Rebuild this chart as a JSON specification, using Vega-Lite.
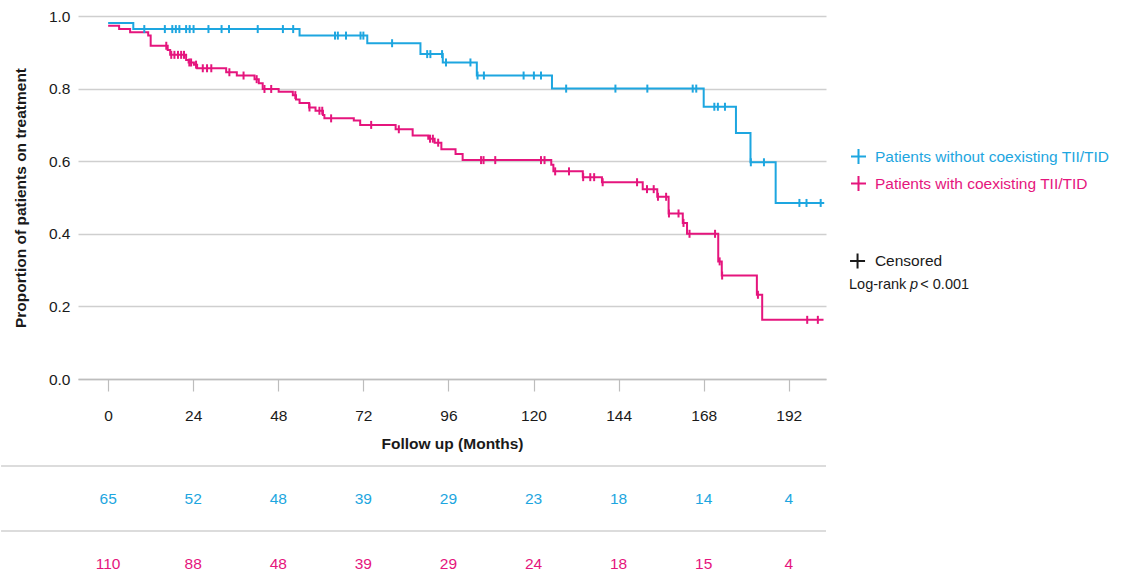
{
  "$schema": "https://vega.github.io/schema/vega-lite/v6.json",
  "background": "white",
  "padding": {"left": 0, "top": 9, "right": 5, "bottom": 0},
  "config": {
    "view": {"stroke": null},
    "font": "Liberation Sans",
    "text": {"font": "Liberation Sans"}
  },
  "datasets": {
    "curves": [
      {"group": "without", "month": 0, "surv": 0.981},
      {"group": "without", "month": 7.1, "surv": 0.964},
      {"group": "without", "month": 54.0, "surv": 0.946},
      {"group": "without", "month": 73.1, "surv": 0.925},
      {"group": "without", "month": 88.1, "surv": 0.895},
      {"group": "without", "month": 94.4, "surv": 0.872},
      {"group": "without", "month": 104.0, "surv": 0.836},
      {"group": "without", "month": 125.2, "surv": 0.800},
      {"group": "without", "month": 168.0, "surv": 0.750},
      {"group": "without", "month": 177.1, "surv": 0.678},
      {"group": "without", "month": 181.2, "surv": 0.597},
      {"group": "without", "month": 188.3, "surv": 0.485},
      {"group": "without", "month": 202.0, "surv": 0.485},
      {"group": "with", "month": 0, "surv": 0.973},
      {"group": "with", "month": 3.1, "surv": 0.964},
      {"group": "with", "month": 6.2, "surv": 0.955},
      {"group": "with", "month": 11.3, "surv": 0.946},
      {"group": "with", "month": 12.0, "surv": 0.918},
      {"group": "with", "month": 16.8, "surv": 0.906},
      {"group": "with", "month": 17.5, "surv": 0.893},
      {"group": "with", "month": 22.0, "surv": 0.879},
      {"group": "with", "month": 22.7, "surv": 0.872},
      {"group": "with", "month": 24.2, "surv": 0.866},
      {"group": "with", "month": 25.1, "surv": 0.856},
      {"group": "with", "month": 33.3, "surv": 0.845},
      {"group": "with", "month": 36.3, "surv": 0.836},
      {"group": "with", "month": 41.3, "surv": 0.826},
      {"group": "with", "month": 42.5, "surv": 0.815},
      {"group": "with", "month": 43.6, "surv": 0.799},
      {"group": "with", "month": 48.1, "surv": 0.791},
      {"group": "with", "month": 52.1, "surv": 0.782},
      {"group": "with", "month": 53.0, "surv": 0.770},
      {"group": "with", "month": 54.0, "surv": 0.760},
      {"group": "with", "month": 56.7, "surv": 0.748},
      {"group": "with", "month": 58.5, "surv": 0.739},
      {"group": "with", "month": 60.6, "surv": 0.727},
      {"group": "with", "month": 61.0, "surv": 0.718},
      {"group": "with", "month": 69.3, "surv": 0.712},
      {"group": "with", "month": 71.1, "surv": 0.700},
      {"group": "with", "month": 81.1, "surv": 0.688},
      {"group": "with", "month": 85.9, "surv": 0.671},
      {"group": "with", "month": 90.3, "surv": 0.662},
      {"group": "with", "month": 92.1, "surv": 0.651},
      {"group": "with", "month": 94.0, "surv": 0.633},
      {"group": "with", "month": 98.0, "surv": 0.620},
      {"group": "with", "month": 100.0, "surv": 0.603},
      {"group": "with", "month": 125.0, "surv": 0.590},
      {"group": "with", "month": 125.6, "surv": 0.572},
      {"group": "with", "month": 133.9, "surv": 0.556},
      {"group": "with", "month": 139.3, "surv": 0.542},
      {"group": "with", "month": 150.8, "surv": 0.523},
      {"group": "with", "month": 154.9, "surv": 0.502},
      {"group": "with", "month": 158.1, "surv": 0.456},
      {"group": "with", "month": 162.1, "surv": 0.430},
      {"group": "with", "month": 163.3, "surv": 0.400},
      {"group": "with", "month": 172.1, "surv": 0.324},
      {"group": "with", "month": 173.1, "surv": 0.285},
      {"group": "with", "month": 183.0, "surv": 0.232},
      {"group": "with", "month": 184.5, "surv": 0.163},
      {"group": "with", "month": 201.8, "surv": 0.163}
    ],
    "censors": [
      {"group": "without", "month": 10.2, "surv": 0.964},
      {"group": "without", "month": 16.0, "surv": 0.964},
      {"group": "without", "month": 18.1, "surv": 0.964},
      {"group": "without", "month": 19.1, "surv": 0.964},
      {"group": "without", "month": 20.1, "surv": 0.964},
      {"group": "without", "month": 22.0, "surv": 0.964},
      {"group": "without", "month": 23.0, "surv": 0.964},
      {"group": "without", "month": 24.1, "surv": 0.964},
      {"group": "without", "month": 28.3, "surv": 0.964},
      {"group": "without", "month": 32.0, "surv": 0.964},
      {"group": "without", "month": 34.1, "surv": 0.964},
      {"group": "without", "month": 42.2, "surv": 0.964},
      {"group": "without", "month": 49.3, "surv": 0.964},
      {"group": "without", "month": 52.2, "surv": 0.964},
      {"group": "without", "month": 64.0, "surv": 0.946},
      {"group": "without", "month": 64.8, "surv": 0.946},
      {"group": "without", "month": 67.1, "surv": 0.946},
      {"group": "without", "month": 71.2, "surv": 0.946},
      {"group": "without", "month": 72.0, "surv": 0.946},
      {"group": "without", "month": 80.1, "surv": 0.925},
      {"group": "without", "month": 90.0, "surv": 0.895},
      {"group": "without", "month": 90.9, "surv": 0.895},
      {"group": "without", "month": 94.2, "surv": 0.895},
      {"group": "without", "month": 95.3, "surv": 0.872},
      {"group": "without", "month": 102.2, "surv": 0.872},
      {"group": "without", "month": 104.2, "surv": 0.836},
      {"group": "without", "month": 106.0, "surv": 0.836},
      {"group": "without", "month": 117.2, "surv": 0.836},
      {"group": "without", "month": 120.1, "surv": 0.836},
      {"group": "without", "month": 122.1, "surv": 0.836},
      {"group": "without", "month": 129.2, "surv": 0.800},
      {"group": "without", "month": 143.1, "surv": 0.800},
      {"group": "without", "month": 152.1, "surv": 0.800},
      {"group": "without", "month": 164.9, "surv": 0.800},
      {"group": "without", "month": 165.9, "surv": 0.800},
      {"group": "without", "month": 171.0, "surv": 0.750},
      {"group": "without", "month": 172.0, "surv": 0.750},
      {"group": "without", "month": 174.0, "surv": 0.750},
      {"group": "without", "month": 181.3, "surv": 0.597},
      {"group": "without", "month": 185.0, "surv": 0.597},
      {"group": "without", "month": 195.0, "surv": 0.485},
      {"group": "without", "month": 197.0, "surv": 0.485},
      {"group": "without", "month": 201.0, "surv": 0.485},
      {"group": "with", "month": 16.4, "surv": 0.918},
      {"group": "with", "month": 17.8, "surv": 0.893},
      {"group": "with", "month": 18.7, "surv": 0.893},
      {"group": "with", "month": 19.7, "surv": 0.893},
      {"group": "with", "month": 20.6, "surv": 0.893},
      {"group": "with", "month": 21.4, "surv": 0.893},
      {"group": "with", "month": 22.9, "surv": 0.872},
      {"group": "with", "month": 23.4, "surv": 0.872},
      {"group": "with", "month": 24.8, "surv": 0.866},
      {"group": "with", "month": 26.7, "surv": 0.856},
      {"group": "with", "month": 27.9, "surv": 0.856},
      {"group": "with", "month": 29.1, "surv": 0.856},
      {"group": "with", "month": 34.2, "surv": 0.845},
      {"group": "with", "month": 38.2, "surv": 0.836},
      {"group": "with", "month": 41.9, "surv": 0.826},
      {"group": "with", "month": 44.1, "surv": 0.799},
      {"group": "with", "month": 46.0, "surv": 0.799},
      {"group": "with", "month": 52.8, "surv": 0.782},
      {"group": "with", "month": 56.8, "surv": 0.748},
      {"group": "with", "month": 59.6, "surv": 0.739},
      {"group": "with", "month": 60.4, "surv": 0.739},
      {"group": "with", "month": 62.9, "surv": 0.718},
      {"group": "with", "month": 74.2, "surv": 0.700},
      {"group": "with", "month": 82.0, "surv": 0.688},
      {"group": "with", "month": 90.8, "surv": 0.662},
      {"group": "with", "month": 91.6, "surv": 0.662},
      {"group": "with", "month": 93.1, "surv": 0.651},
      {"group": "with", "month": 105.2, "surv": 0.603},
      {"group": "with", "month": 105.9, "surv": 0.603},
      {"group": "with", "month": 109.2, "surv": 0.603},
      {"group": "with", "month": 122.1, "surv": 0.603},
      {"group": "with", "month": 123.1, "surv": 0.603},
      {"group": "with", "month": 126.1, "surv": 0.572},
      {"group": "with", "month": 130.0, "surv": 0.572},
      {"group": "with", "month": 134.0, "surv": 0.556},
      {"group": "with", "month": 136.0, "surv": 0.556},
      {"group": "with", "month": 137.1, "surv": 0.556},
      {"group": "with", "month": 139.5, "surv": 0.542},
      {"group": "with", "month": 149.2, "surv": 0.542},
      {"group": "with", "month": 152.0, "surv": 0.523},
      {"group": "with", "month": 153.9, "surv": 0.523},
      {"group": "with", "month": 155.1, "surv": 0.502},
      {"group": "with", "month": 157.4, "surv": 0.502},
      {"group": "with", "month": 158.2, "surv": 0.456},
      {"group": "with", "month": 160.9, "surv": 0.456},
      {"group": "with", "month": 162.3, "surv": 0.430},
      {"group": "with", "month": 164.0, "surv": 0.400},
      {"group": "with", "month": 171.2, "surv": 0.400},
      {"group": "with", "month": 172.5, "surv": 0.324},
      {"group": "with", "month": 173.2, "surv": 0.285},
      {"group": "with", "month": 183.3, "surv": 0.232},
      {"group": "with", "month": 197.2, "surv": 0.163},
      {"group": "with", "month": 200.2, "surv": 0.163}
    ],
    "risk": [
      {"group": "without", "month": 0, "n": 65},
      {"group": "without", "month": 24, "n": 52},
      {"group": "without", "month": 48, "n": 48},
      {"group": "without", "month": 72, "n": 39},
      {"group": "without", "month": 96, "n": 29},
      {"group": "without", "month": 120, "n": 23},
      {"group": "without", "month": 144, "n": 18},
      {"group": "without", "month": 168, "n": 14},
      {"group": "without", "month": 192, "n": 4},
      {"group": "with", "month": 0, "n": 110},
      {"group": "with", "month": 24, "n": 88},
      {"group": "with", "month": 48, "n": 48},
      {"group": "with", "month": 72, "n": 39},
      {"group": "with", "month": 96, "n": 29},
      {"group": "with", "month": 120, "n": 24},
      {"group": "with", "month": 144, "n": 18},
      {"group": "with", "month": 168, "n": 15},
      {"group": "with", "month": 192, "n": 4}
    ],
    "groups": [{"group": "without"}, {"group": "with"}]
  },
  "bounds": "flush",
  "spacing": 87,
  "resolve": {"legend": {"color": "independent"}},
  "vconcat": [
    {
      "width": 748,
      "height": 363,
      "layer": [
        {
          "data": {"name": "curves"},
          "mark": {"type": "line", "interpolate": "step-after", "strokeWidth": 2},
          "encoding": {
            "x": {
              "field": "month", "type": "quantitative",
              "scale": {"domain": [-8.5, 202.5], "nice": false, "zero": false},
              "axis": {
                "values": [0, 24, 48, 72, 96, 120, 144, 168, 192],
                "title": "Follow up (Months)",
                "grid": false,
                "domainColor": "#bdbdbd", "domainWidth": 1.5,
                "tickColor": "#bdbdbd", "tickSize": 12, "tickWidth": 1.2,
                "labelPadding": 17, "labelFontSize": 15.5, "labelColor": "#1a1a1a",
                "labelFont": "Liberation Sans", "labelFlush": false,
                "titleFont": "Liberation Sans", "titleFontSize": 15.5, "titleFontWeight": "bold",
                "titleColor": "#1a1a1a", "titlePadding": 13
              }
            },
            "y": {
              "field": "surv", "type": "quantitative",
              "scale": {"domain": [0, 1], "nice": false},
              "axis": {
                "values": [0, 0.2, 0.4, 0.6, 0.8, 1],
                "format": ".1f",
                "title": "Proportion of patients on treatment",
                "grid": true, "gridColor": "#cfcfcf", "gridWidth": 1.5,
                "domain": false, "ticks": false,
                "labelPadding": 8, "labelFontSize": 15.5, "labelColor": "#1a1a1a",
                "labelFont": "Liberation Sans",
                "titleFont": "Liberation Sans", "titleFontSize": 15.5, "titleFontWeight": "bold",
                "titleColor": "#1a1a1a", "titlePadding": 20
              }
            },
            "color": {
              "field": "group", "type": "nominal",
              "scale": {"domain": ["without", "with"], "range": ["#1DA6E0", "#E5157D"]},
              "legend": {
                "orient": "none", "legendX": 772, "legendY": 132,
                "title": null, "padding": 0,
                "symbolType": "M-1,0H1M0,-1V1", "symbolSize": 225, "symbolStrokeWidth": 2,
                "labelFontSize": 15.5, "labelFont": "Liberation Sans", "labelOffset": 8,
                "labelLimit": 400,
                "rowPadding": 4,
                "labelExpr": "datum.value === 'without' ? 'Patients without coexisting TII/TID' : 'Patients with coexisting TII/TID'",
                "encode": {
                  "labels": {"update": {"fill": {"signal": "datum.value === 'without' ? '#1DA6E0' : '#E5157D'"}}}
                }
              }
            }
          }
        },
        {
          "data": {"name": "censors"},
          "mark": {"type": "point", "shape": "M0,-1V1", "size": 64, "strokeWidth": 2, "filled": false, "opacity": 1},
          "encoding": {
            "x": {"field": "month", "type": "quantitative"},
            "y": {"field": "surv", "type": "quantitative"},
            "color": {"field": "group", "type": "nominal"}
          }
        },
        {
          "data": {"values": [{}]},
          "mark": {"type": "point", "shape": "M-1,0H1M0,-1V1", "size": 225, "strokeWidth": 2, "filled": false, "opacity": 1, "color": "#1a1a1a"},
          "encoding": {"x": {"datum": 211.4}, "y": {"datum": 0.325}}
        },
        {
          "data": {"values": [{}]},
          "mark": {"type": "text", "text": "Censored", "align": "left", "baseline": "middle", "fontSize": 15.5, "color": "#1a1a1a"},
          "encoding": {"x": {"datum": 216.3}, "y": {"datum": 0.325}}
        },
        {
          "data": {"values": [{}]},
          "mark": {"type": "text", "text": "Log-rank", "align": "left", "baseline": "middle", "fontSize": 14.5, "color": "#1a1a1a"},
          "encoding": {"x": {"datum": 209.0}, "y": {"datum": 0.259}}
        },
        {
          "data": {"values": [{}]},
          "mark": {"type": "text", "text": "p", "align": "left", "baseline": "middle", "fontSize": 14.5, "fontStyle": "italic", "color": "#1a1a1a"},
          "encoding": {"x": {"datum": 226.2}, "y": {"datum": 0.259}}
        },
        {
          "data": {"values": [{}]},
          "mark": {"type": "text", "text": "< 0.001", "align": "left", "baseline": "middle", "fontSize": 14.5, "color": "#1a1a1a"},
          "encoding": {"x": {"datum": 229.1}, "y": {"datum": 0.259}}
        }
      ]
    },
    {
      "width": 748,
      "height": 106,
      "layer": [
        {
          "data": {"name": "groups"},
          "mark": {"type": "rule", "color": "#dcdcdc", "strokeWidth": 2},
          "encoding": {
            "x": {"datum": -30.2, "scale": {"domain": [-8.5, 202.5], "nice": false, "zero": false}, "axis": null},
            "x2": {"datum": 202.5},
            "y": {
              "field": "group", "type": "nominal", "bandPosition": 0,
              "scale": {"domain": ["without", "with"], "range": [0, 130], "paddingInner": 0, "paddingOuter": 0},
              "axis": null
            }
          }
        },
        {
          "data": {"name": "risk"},
          "transform": [{"filter": "datum.group === 'without'"}],
          "mark": {"type": "text", "color": "#1DA6E0", "fontSize": 15.5, "baseline": "middle"},
          "encoding": {
            "x": {"field": "month", "type": "quantitative"},
            "y": {"field": "group", "type": "nominal"},
            "text": {"field": "n", "type": "quantitative"}
          }
        },
        {
          "data": {"name": "risk"},
          "transform": [{"filter": "datum.group === 'with'"}],
          "mark": {"type": "text", "color": "#E5157D", "fontSize": 15.5, "baseline": "middle"},
          "encoding": {
            "x": {"field": "month", "type": "quantitative"},
            "y": {"field": "group", "type": "nominal"},
            "text": {"field": "n", "type": "quantitative"}
          }
        }
      ]
    }
  ]
}
